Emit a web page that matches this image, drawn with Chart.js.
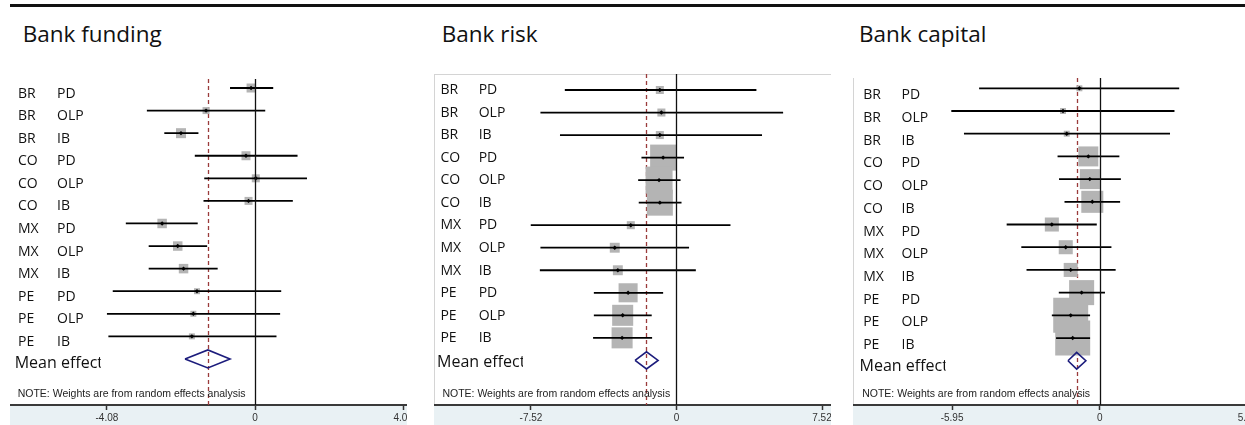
<!DOCTYPE html>
<html>
<head>
<meta charset="utf-8">
<script src="https://cdn.jsdelivr.net/npm/chart.js@4/dist/chart.umd.min.js"></script>
<style>
  html, body { margin: 0; padding: 0; background: #fff; width: 1245px; height: 425px; overflow: hidden; }
  #rule { position: absolute; left: 10px; top: 4px; width: 1235px; height: 2.5px; background: #111; }
  .title { position: absolute; top: 22.7px; font-family: 'Open Sans', sans-serif; font-size: 22.5px; line-height: 22.5px; color: #111; white-space: nowrap; }
  .panel { position: absolute; overflow: hidden; }
  .panel canvas { position: absolute; left: 0; top: 0; }
</style>
</head>
<body>
<div id="rule"></div>
<div id="root"></div>
<script>
// Study rows (country × instrument)
const countries   = ['BR','BR','BR','CO','CO','CO','MX','MX','MX','PE','PE','PE'];
const instruments = ['PD','OLP','IB','PD','OLP','IB','PD','OLP','IB','PD','OLP','IB'];
const meanLabel   = 'Mean effect';
const noteText    = 'NOTE: Weights are from random effects analysis';

// Bank funding: estimate, 95% CI, random-effects weight (%)
const fundEst    = [-0.11, -1.35, -2.04, -0.25,  0.02, -0.18, -2.56, -2.13, -1.97, -1.60, -1.70, -1.74];
const fundLo     = [-0.69, -2.98, -2.50, -1.66, -1.40, -1.42, -3.56, -2.93, -2.93, -3.92, -4.08, -4.04];
const fundHi     = [ 0.50,  0.28, -1.56,  1.17,  1.43,  1.04, -1.58, -1.32, -1.03,  0.72,  0.69,  0.59];
const fundWeight = [ 9.9,   6.0,  12.2,   9.9,   7.8,   7.8,  11.0,  11.0,  11.0,   4.4,   4.4,   4.4];
const fundMean   = [-1.30, -1.93, -0.69];   // pooled estimate, lower, upper
const fundTicks  = ['-4.08', '0', '4.08'];

// Bank risk
const riskEst    = [-0.86, -0.78, -0.86, -0.69, -0.90, -0.86, -2.36, -3.19, -3.03, -2.50, -2.78, -2.81];
const riskLo     = [-5.77, -7.03, -6.02, -1.81, -1.98, -1.95, -7.53, -7.03, -7.06, -4.27, -4.27, -4.31];
const riskHi     = [ 4.13,  5.51,  4.42,  0.39,  0.21,  0.26,  2.79,  0.65,  1.00, -0.69, -1.28, -1.26];
const riskWeight = [ 1.7,   1.7,   1.7,  17.9,  19.3,  17.9,   1.7,   2.6,   2.6,   9.6,  11.7,  11.7];
const riskMean   = [-1.55, -2.14, -0.95];
const riskTicks  = ['-7.52', '0', '7.52'];

// Bank capital
const capEst     = [-0.82, -1.48, -1.33, -0.46, -0.40, -0.30, -1.93, -1.37, -1.17, -0.73, -1.17, -1.09];
const capLo      = [-4.86, -5.98, -5.47, -1.70, -1.64, -1.42, -3.75, -3.16, -2.95, -1.65, -1.93, -1.76];
const capHi      = [ 3.20,  3.01,  2.83,  0.79,  0.85,  0.82, -0.12,  0.47,  0.64,  0.21, -0.39, -0.39];
const capWeight  = [ 0.7,   0.7,   0.7,   7.9,   7.9,   9.6,   3.9,   3.9,   3.9,  12.4,  24.2,  24.2];
const capMean    = [-0.93, -1.28, -0.56];
const capTicks   = ['-5.95', '0', '5.95'];

// Panel layout (page pixels) and scale ranges
const panels = [
  { title: 'Bank funding', titleX: 22.7, est: fundEst, lo: fundLo, hi: fundHi, weight: fundWeight, mean: fundMean, ticks: fundTicks,
    left: 10, width: 397, top: 79, xMin: -6.75, xMax: 5.92, yMin: 0.601, yMax: 15.04, boxScale: 2.86, diamondH: 0.40,
    cX: 8, iX: 47, mX: 4.7, rowBase: 9.6, meanBase: 9.3, noteX: 7.7, borderTop: false, borderLeft: false },
  { title: 'Bank risk', titleX: 441.7, est: riskEst, lo: riskLo, hi: riskHi, weight: riskWeight, mean: riskMean, ticks: riskTicks,
    left: 434.3, width: 396.7, top: 74, xMin: -12.53, xMax: 11.24, yMin: 0.29, yMax: 14.98, boxScale: 6.15, diamondH: 0.38,
    cX: 6.4, iX: 44.7, mX: 3, rowBase: 4.3, meanBase: 6.3, noteX: 8.4, borderTop: true, borderLeft: true },
  { title: 'Bank capital', titleX: 859, est: capEst, lo: capLo, hi: capHi, weight: capWeight, mean: capMean, ticks: capTicks,
    left: 852.5, width: 392.5, top: 78, xMin: -9.94, xMax: 8.59, yMin: 0.546, yMax: 14.95, boxScale: 7.11, diamondH: 0.37,
    cX: 10.2, iX: 48.5, mX: 6.5, rowBase: 11, meanBase: 10, noteX: 9.2, borderTop: false, borderLeft: true }
];

const AXIS_BOTTOM = 405;
const PAGE_H = 425;
const CANVAS_W = 460;

// Decorations: axis band, panel frame, reference lines, row labels, note
const forestDecor = {
  id: 'forestDecor',
  beforeDraw(chart, args, opts) {
    const { ctx, chartArea } = chart;
    ctx.save();
    ctx.fillStyle = '#e9f1f4';
    ctx.fillRect(0, chartArea.bottom, chart.width, chart.height - chartArea.bottom);
    ctx.strokeStyle = '#d4d4d4';
    ctx.lineWidth = 1;
    if (opts.borderTop) {
      ctx.beginPath(); ctx.moveTo(0, chartArea.top + 0.5); ctx.lineTo(chart.width, chartArea.top + 0.5); ctx.stroke();
    }
    if (opts.borderLeft) {
      ctx.beginPath(); ctx.moveTo(0.5, chartArea.top); ctx.lineTo(0.5, chartArea.bottom); ctx.stroke();
    }
    ctx.restore();
  },
  beforeDatasetsDraw(chart, args, opts) {
    const { ctx, chartArea, scales } = chart;
    const xm = Math.round(scales.x.getPixelForValue(opts.mean[0])) + 0.5;
    ctx.save();
    ctx.strokeStyle = '#9a3b3b';
    ctx.lineWidth = 1.3;
    ctx.setLineDash([4, 3]);
    ctx.beginPath(); ctx.moveTo(xm, chartArea.top); ctx.lineTo(xm, chartArea.bottom); ctx.stroke();
    ctx.restore();
  },
  afterDatasetsDraw(chart, args, opts) {
    const { ctx, chartArea, scales } = chart;
    const x0 = Math.round(scales.x.getPixelForValue(0)) + 0.5;
    ctx.save();
    ctx.strokeStyle = '#111';
    ctx.lineWidth = 1.3;
    ctx.beginPath(); ctx.moveTo(x0, chartArea.top); ctx.lineTo(x0, chartArea.bottom); ctx.stroke();
    ctx.restore();
  },
  afterDraw(chart, args, opts) {
    const { ctx, chartArea, scales } = chart;
    ctx.save();
    ctx.fillStyle = '#111';
    ctx.textBaseline = 'alphabetic';
    ctx.font = '14px "Open Sans"';
    countries.forEach((c, i) => {
      const y = scales.y.getPixelForValue(i + 1) + opts.rowBase;
      ctx.fillText(c, opts.cX, y);
      ctx.fillText(instruments[i], opts.iX, y);
    });
    const ym = scales.y.getPixelForValue(countries.length + 1) + opts.meanBase;
    ctx.save();
    ctx.beginPath(); ctx.rect(0, ym - 20, opts.mX + 86, 30); ctx.clip();
    ctx.font = '16px "Open Sans"';
    ctx.fillText(meanLabel, opts.mX, ym);
    ctx.restore();
    ctx.font = '10.5px "Liberation Sans", Arial, sans-serif';
    ctx.fillStyle = '#222';
    ctx.fillText(noteText, opts.noteX, chartArea.bottom - 7.7);
    ctx.restore();
  }
};

const root = document.getElementById('root');

panels.forEach(p => {
  const t = document.createElement('div');
  t.className = 'title';
  t.style.left = p.titleX + 'px';
  t.textContent = p.title;
  root.appendChild(t);

  const box = document.createElement('div');
  box.className = 'panel';
  box.style.left = p.left + 'px';
  box.style.top = p.top + 'px';
  box.style.width = p.width + 'px';
  box.style.height = (PAGE_H - p.top) + 'px';
  const cv = document.createElement('canvas');
  cv.width = CANVAS_W;
  cv.height = PAGE_H - p.top;
  box.appendChild(cv);
  root.appendChild(box);

  const n = countries.length;
  const datasets = [];

  // weight boxes
  datasets.push({
    data: p.est.map((v, i) => ({ x: v, y: i + 1 })),
    pointStyle: 'rect',
    pointRadius: p.weight.map(w => p.boxScale * Math.sqrt(w) / Math.SQRT2),
    backgroundColor: '#b4b4b4',
    borderWidth: 0,
    order: 3
  });
  // confidence intervals
  p.est.forEach((v, i) => {
    datasets.push({
      showLine: true,
      data: [{ x: p.lo[i], y: i + 1 }, { x: p.hi[i], y: i + 1 }],
      borderColor: '#000',
      borderWidth: 1.8,
      pointRadius: 0,
      order: 2
    });
  });
  // point estimates
  datasets.push({
    data: p.est.map((v, i) => ({ x: v, y: i + 1 })),
    pointStyle: 'rectRot',
    pointRadius: 2.2,
    backgroundColor: '#000',
    borderColor: '#000',
    borderWidth: 0,
    order: 1
  });
  // pooled effect diamond
  const rm = n + 1;
  datasets.push({
    showLine: true,
    data: [
      { x: p.mean[1], y: rm },
      { x: p.mean[0], y: rm - p.diamondH },
      { x: p.mean[2], y: rm },
      { x: p.mean[0], y: rm + p.diamondH },
      { x: p.mean[1], y: rm }
    ],
    borderColor: '#1c1c7c',
    borderWidth: 1.6,
    pointRadius: 0,
    fill: false,
    tension: 0,
    order: 1
  });

  new Chart(cv, {
    type: 'scatter',
    data: { datasets },
    options: {
      responsive: false,
      animation: false,
      devicePixelRatio: 1,
      layout: { padding: 0, autoPadding: false },
      plugins: {
        legend: { display: false },
        tooltip: { enabled: false },
        forestDecor: p
      },
      scales: {
        x: {
          type: 'linear',
          min: p.xMin,
          max: p.xMax,
          grid: { display: true, drawOnChartArea: false, drawTicks: true, tickLength: 5, tickColor: '#333', tickWidth: 1.5 },
          border: { display: true, color: '#3a3a3a', width: 2 },
          ticks: {
            font: { family: '"Liberation Sans", Arial, sans-serif', size: 10 },
            color: '#333',
            padding: 2,
            maxRotation: 0,
            callback: (v) => {
              const k = p.ticks.findIndex(s => parseFloat(s) === v);
              return k >= 0 ? p.ticks[k] : '';
            }
          },
          afterBuildTicks: (s) => { s.ticks = p.ticks.map(s2 => ({ value: parseFloat(s2) })); },
          afterFit: (s) => { s.height = PAGE_H - AXIS_BOTTOM; }
        },
        y: {
          type: 'linear',
          reverse: true,
          min: p.yMin,
          max: p.yMax,
          display: false
        }
      }
    },
    plugins: [forestDecor]
  });
});
</script>
</body>
</html>
